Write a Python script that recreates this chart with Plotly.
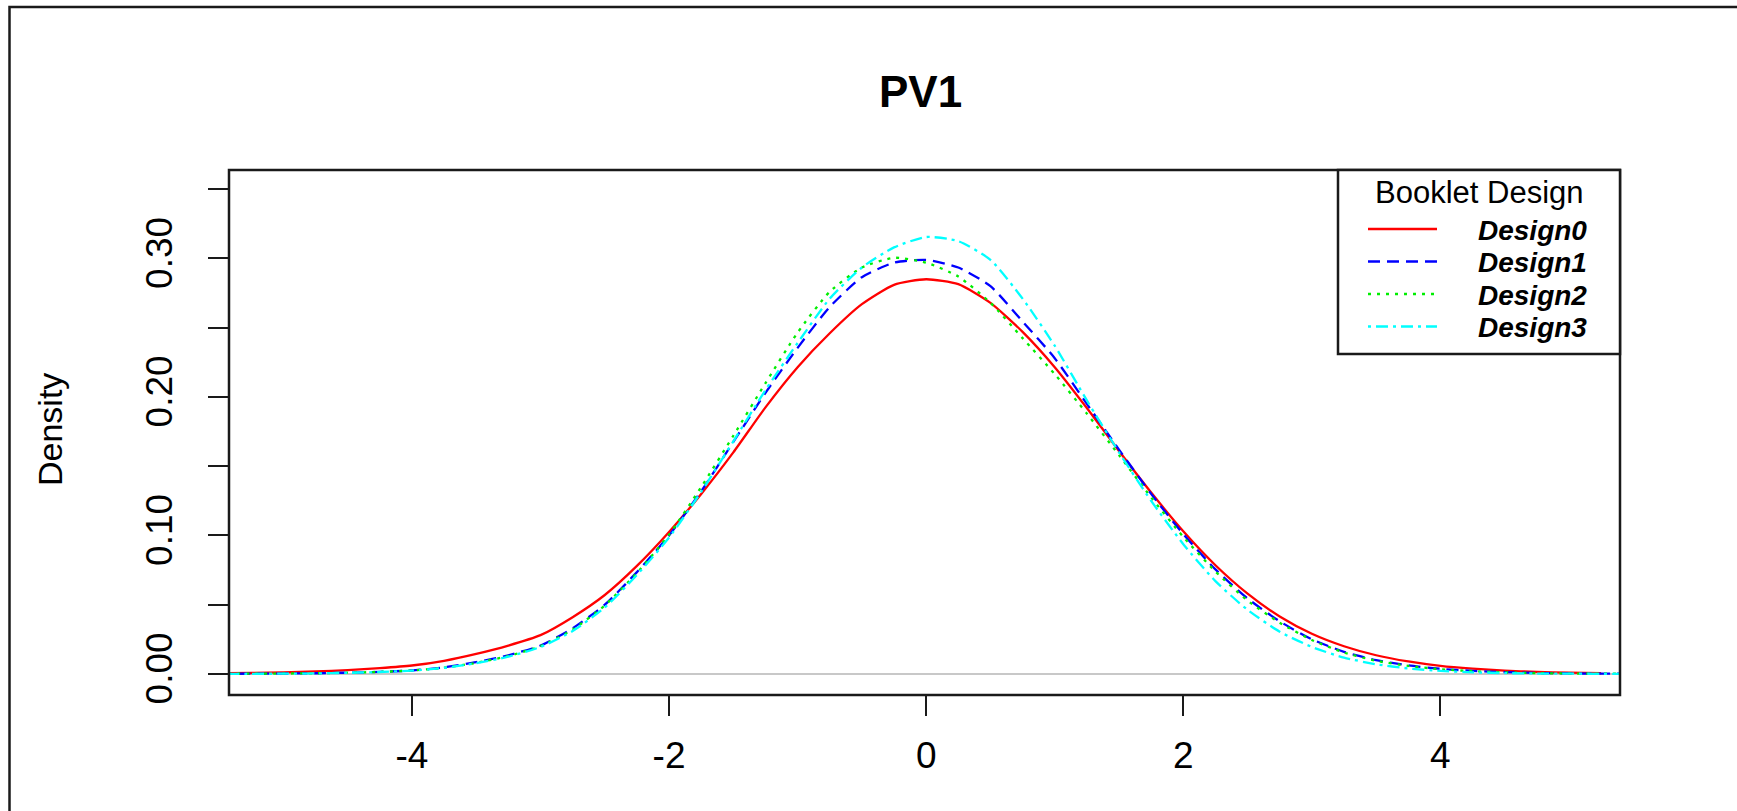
import plotly.graph_objects as go

# ---------------- data ----------------
x_vals = [-5.5, -5.25, -5.0, -4.75, -4.5, -4.25, -4.0, -3.75, -3.5, -3.25, -3.0,
          -2.75, -2.5, -2.25, -2.0, -1.75, -1.5, -1.25, -1.0, -0.75, -0.5, -0.25,
          0.0, 0.25, 0.5, 0.75, 1.0, 1.25, 1.5, 1.75, 2.0, 2.25, 2.5, 2.75, 3.0,
          3.25, 3.5, 3.75, 4.0, 4.25, 4.5, 4.75, 5.0, 5.25, 5.5]

design0 = [0.0004, 0.0007, 0.0011, 0.0018, 0.0028, 0.0042, 0.0061, 0.0095, 0.0145, 0.0205, 0.0280,
           0.0410, 0.0570, 0.0780, 0.1025, 0.1300, 0.1600, 0.1925, 0.2215, 0.2460, 0.2670, 0.2810,
           0.2850,
           0.2815, 0.2680, 0.2470, 0.2215, 0.1920, 0.1610, 0.1310, 0.1030, 0.0785, 0.0580, 0.0415,
           0.0290, 0.0200, 0.0135, 0.0090, 0.0058, 0.0038, 0.0024, 0.0015, 0.0009, 0.0005, None]

design1 = [0.0001, 0.0002, 0.0003, 0.0005, 0.0009, 0.0015, 0.0025, 0.0048, 0.0085, 0.0135, 0.0205,
           0.0330, 0.0500, 0.0735, 0.1000, 0.1320, 0.1675, 0.2030, 0.2355, 0.2650, 0.2865, 0.2970,
           0.2990,
           0.2935, 0.2800, 0.2545, 0.2280, 0.1950, 0.1620, 0.1300, 0.1010, 0.0755, 0.0545, 0.0380,
           0.0250, 0.0160, 0.0100, 0.0062, 0.0037, 0.0022, 0.0013, 0.0007, 0.0004, 0.0002, 0.0001]

design2 = [0.0001, 0.0002, 0.0003, 0.0005, 0.0009, 0.0015, 0.0025, 0.0045, 0.0080, 0.0130, 0.0200,
           0.0320, 0.0495, 0.0730, 0.1005, 0.1350, 0.1720, 0.2100, 0.2465, 0.2760, 0.2935, 0.3005,
           0.2970,
           0.2870, 0.2680, 0.2425, 0.2165, 0.1880, 0.1580, 0.1275, 0.0990, 0.0740, 0.0530, 0.0370,
           0.0245, 0.0155, 0.0095, 0.0058, 0.0034, 0.0020, 0.0011, 0.0006, 0.0003, 0.0002, 0.0001]

design3 = [0.0001, 0.0001, 0.0002, 0.0004, 0.0008, 0.0014, 0.0024, 0.0044, 0.0078, 0.0125, 0.0195,
           0.0310, 0.0480, 0.0715, 0.0985, 0.1315, 0.1680, 0.2050, 0.2390, 0.2710, 0.2935, 0.3080,
           0.3155,
           0.3125, 0.2990, 0.2710, 0.2370, 0.1975, 0.1600, 0.1250, 0.0937, 0.0670, 0.0463, 0.0305,
           0.0195, 0.0118, 0.0070, 0.0040, 0.0022, 0.0012, 0.0006, 0.0003, 0.0002, 0.0001, 0.0001]

series_names = ["Design0", "Design1", "Design2", "Design3"]
series_values = [design0, design1, design2, design3]

x_tick_vals = [-4, -2, 0, 2, 4]
x_tick_text = ["-4", "-2", "0", "2", "4"]
y_tick_vals = [0.00, 0.05, 0.10, 0.15, 0.20, 0.25, 0.30, 0.35]
y_tick_text = ["0.00", "", "0.10", "", "0.20", "", "0.30", ""]

chart_title = "PV1"
y_title = "Density"
legend_title = "Booklet Design"

# ---------------- styling ----------------
colors = ["#FF0000", "#0000FF", "#00EE00", "#00FFFF"]
dashes = ["solid", "12px,7px", "3px,6px", "3px,5px,12px,5px"]
FONT = "Liberation Sans, Arial, Helvetica, sans-serif"

W, H = 1737, 811
ML, MR, MT, MB = 229, 117, 170, 116
PW = W - ML - MR
PH = H - MT - MB


def px(xp):
    return (xp - ML) / PW


def py(yp):
    return (H - MB - yp) / PH


fig = go.Figure()
for name, vals, c, d in zip(series_names, series_values, colors, dashes):
    fig.add_trace(go.Scatter(
        x=x_vals, y=vals, mode="lines", name=name,
        line=dict(color=c, width=2.3, dash=d, shape="spline", smoothing=0.6),
        showlegend=False,
    ))

shapes = []
# gray zero line
shapes.append(dict(type="line", xref="paper", yref="y", x0=0, x1=1, y0=0, y1=0,
                   line=dict(color="#C8C8C8", width=2), layer="below"))
# plot box
shapes.append(dict(type="rect", xref="paper", yref="paper", x0=0, x1=1, y0=0, y1=1,
                   line=dict(color="#1a1a1a", width=2.5)))
# outer frame (cut at right/bottom of the image)
shapes.append(dict(type="rect", xref="paper", yref="paper",
                   x0=px(9.5), x1=px(W + 20), y0=py(H + 20), y1=py(7),
                   line=dict(color="#1a1a1a", width=2.5)))
# legend box
shapes.append(dict(type="rect", xref="paper", yref="paper",
                   x0=px(1338), x1=1, y0=py(354), y1=1,
                   line=dict(color="#1a1a1a", width=2.5), fillcolor="white", layer="above"))

annotations = []
annotations.append(dict(text=chart_title, xref="paper", yref="paper", x=px(920), y=py(91),
                        showarrow=False, xanchor="center", yanchor="middle",
                        font=dict(family=FONT, size=44, color="black", weight="bold")))
annotations.append(dict(text=y_title, xref="paper", yref="paper", x=px(50), y=py(430),
                        showarrow=False, xanchor="center", yanchor="middle", textangle=-90,
                        font=dict(family=FONT, size=34, color="black")))
annotations.append(dict(text=legend_title, xref="paper", yref="paper", x=px(1479), y=py(192),
                        showarrow=False, xanchor="center", yanchor="middle", borderpad=0,
                        font=dict(family=FONT, size=31, color="black")))

row_y = [230, 262.5, 295, 327.5]
for name, c, d, ry in zip(series_names, colors, dashes, row_y):
    shapes.append(dict(type="line", xref="paper", yref="paper",
                       x0=px(1368), x1=px(1437), y0=py(ry - 1), y1=py(ry - 1),
                       line=dict(color=c, width=2.3, dash=d)))
    annotations.append(dict(text=name, xref="paper", yref="paper", x=px(1477), y=py(ry),
                            showarrow=False, xanchor="left", yanchor="middle", borderpad=0,
                            font=dict(family=FONT, size=28, color="black",
                                      weight="bold", style="italic")))

fig.update_layout(
    width=W, height=H,
    margin=dict(l=ML, r=MR, t=MT, b=MB, pad=0),
    paper_bgcolor="white", plot_bgcolor="white",
    shapes=shapes, annotations=annotations,
    showlegend=False,
    xaxis=dict(range=[-5.423, 5.397], showgrid=False, zeroline=False, showline=False,
               tickmode="array", tickvals=x_tick_vals, ticktext=x_tick_text,
               ticks="outside", ticklen=20, tickwidth=2, tickcolor="#1a1a1a",
               ticklabelstandoff=8,
               tickfont=dict(family=FONT, size=37, color="black")),
    yaxis=dict(range=[-0.0152, 0.3639], showgrid=False, zeroline=False, showline=False,
               tickmode="array", tickvals=y_tick_vals, ticktext=y_tick_text,
               ticks="outside", ticklen=20, tickwidth=2, tickcolor="#1a1a1a",
               tickangle=-90, ticklabelstandoff=21,
               tickfont=dict(family=FONT, size=37, color="black")),
)

fig.write_html("out.html")
